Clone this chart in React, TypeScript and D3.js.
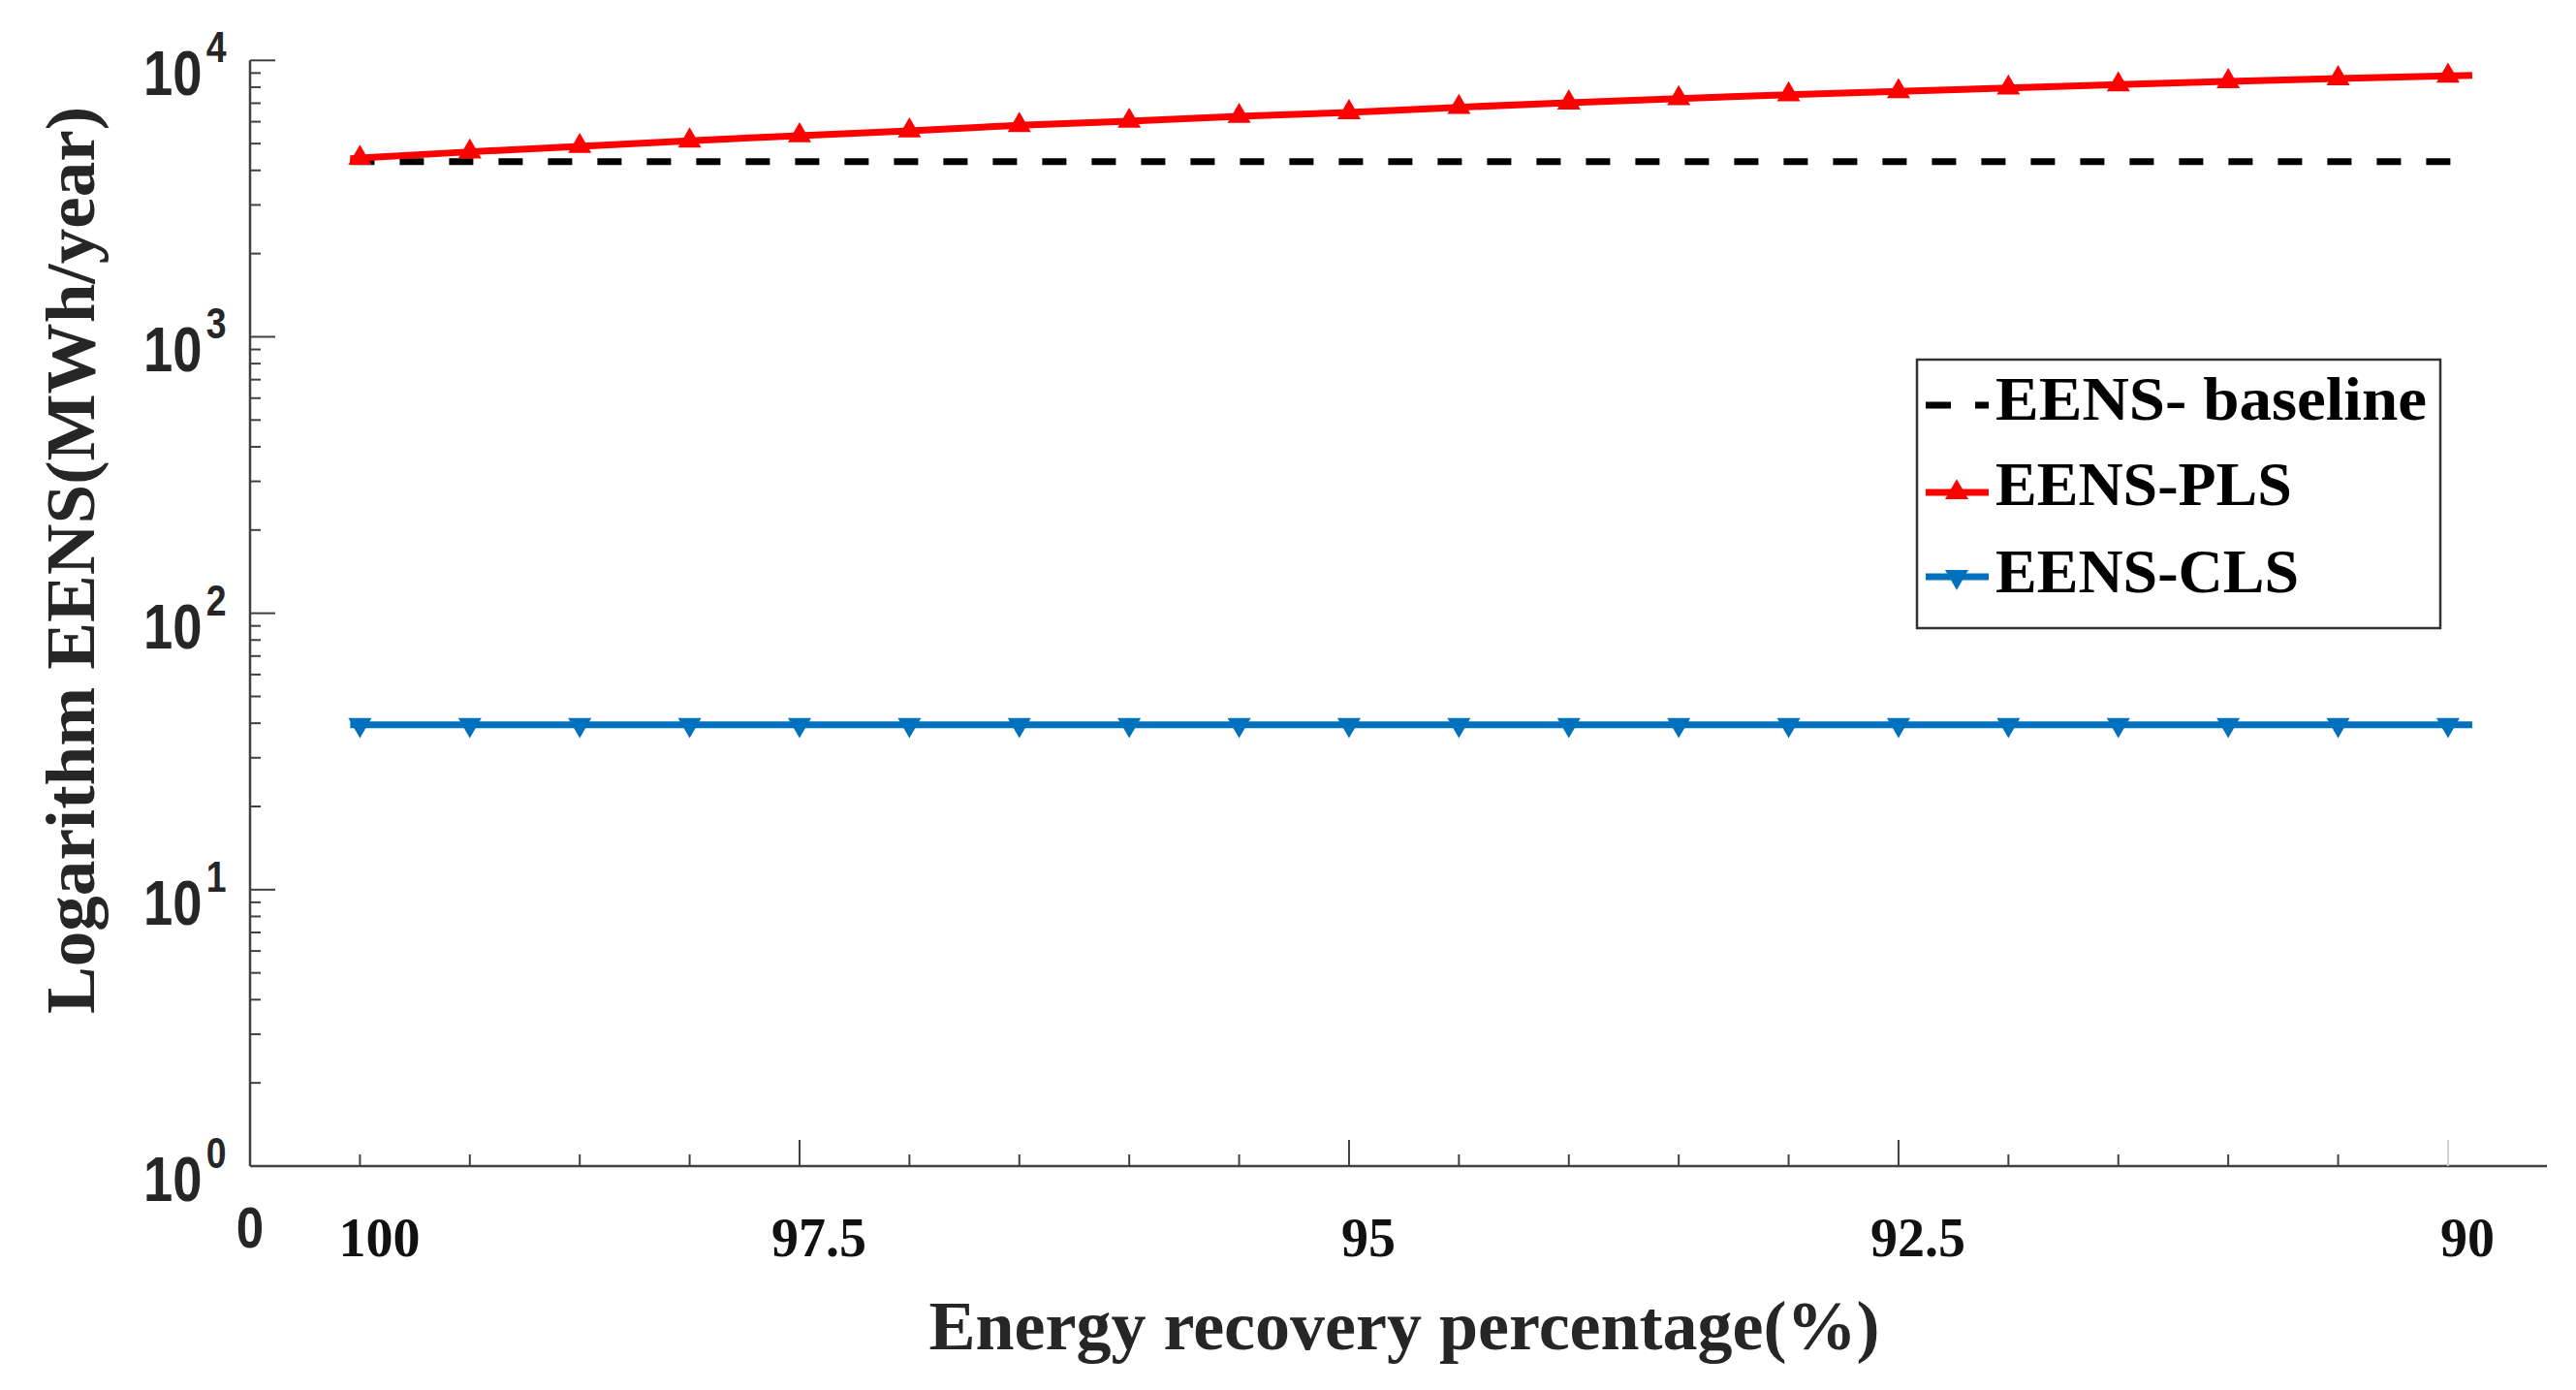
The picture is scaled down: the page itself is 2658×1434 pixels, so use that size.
import React from 'react';
import * as d3 from 'd3';

// ---- data ----
const pointIndex = [1, 2, 3, 4, 5, 6, 7, 8, 9, 10, 11, 12, 13, 14, 15, 16, 17, 18, 19, 20];
const baselineValues = [4300, 4300, 4300, 4300, 4300, 4300, 4300, 4300, 4300, 4300, 4300, 4300, 4300, 4300, 4300, 4300, 4300, 4300, 4300, 4300];
const plsValues = [4432, 4669, 4889, 5120, 5343, 5564, 5825, 6031, 6279, 6484, 6768, 7030, 7277, 7516, 7724, 7952, 8173, 8395, 8600, 8788];
const clsValues = [39.5, 39.5, 39.5, 39.5, 39.5, 39.5, 39.5, 39.5, 39.5, 39.5, 39.5, 39.5, 39.5, 39.5, 39.5, 39.5, 39.5, 39.5, 39.5, 39.5];
const xLabelPositions = [1, 5, 10, 15, 20];
const xLabelTexts = ['100', '97.5', '95', '92.5', '90'];
const xMinorTicks = [1, 2, 3, 4, 6, 7, 8, 9, 11, 12, 13, 14, 16, 17, 18, 19];
const xMajorTicks = [0, 5, 10, 15, 20];
const yExponents = [0, 1, 2, 3, 4];
const legendNames = ['EENS- baseline', 'EENS-PLS', 'EENS-CLS'];

const W = 2658;
const H = 1434;
const AX = '#404040';
const SERIF = '"Liberation Serif", "Times New Roman", serif';
const SANS = '"Liberation Sans", Arial, sans-serif';
const RED = '#ff0000';
const BLUE = '#0072bd';
const OVER_LEFT = 10; // px the drawn line runs past first point
const OVER_RIGHT = 25; // px the drawn line runs past last point

export default function App() {
  const x = d3.scaleLinear().domain([0, 20.9]).range([258, 2628]);
  const y = d3.scaleLog().domain([1, 1e4]).range([1203, 62.3]);
  const [x0, x1] = x.range();
  const [yb, yt] = y.range();

  const pathFor = (vals: number[]) => {
    const pts = pointIndex.map((p, i) => [x(p), y(vals[i])] as [number, number]);
    const n = pts.length;
    const [ax, ay] = pts[0];
    const [bx, by] = pts[1];
    const sl = (by - ay) / (bx - ax);
    const [cx, cy] = pts[n - 2];
    const [dx, dy] = pts[n - 1];
    const sr = (dy - cy) / (dx - cx);
    const ext: [number, number][] = [
      [ax - OVER_LEFT, ay - sl * OVER_LEFT],
      ...pts,
      [dx + OVER_RIGHT, dy + sr * OVER_RIGHT],
    ];
    return d3.line()(ext) || '';
  };

  const triUp = d3.symbol().type(d3.symbolTriangle).size(250)() as string;

  // minor log ticks
  const yMinor: number[] = [];
  for (let e = 0; e < 4; e++) {
    for (let m = 2; m <= 9; m++) yMinor.push(m * Math.pow(10, e));
  }

  const legendX = 1978;
  const legendY = 371;
  const rowBase = [433, 521, 611];

  return (
    <svg
      width={W}
      height={H}
      style={{ position: 'absolute', left: 0, top: 0, display: 'block', background: '#fff' }}
    >
      <rect x={0} y={0} width={W} height={H} fill="#fff" />

      {/* axes */}
      <line x1={x0} x2={x0} y1={yt} y2={yb} stroke={AX} strokeWidth={2.5} />
      <line x1={x0} x2={x1} y1={yb} y2={yb} stroke={AX} strokeWidth={2.5} />

      {/* y ticks */}
      {yExponents.map((e) => {
        const v = Math.pow(10, e);
        return <line key={'ym' + e} x1={x0} x2={x0 + 26} y1={y(v)} y2={y(v)} stroke={AX} strokeWidth={2} />;
      })}
      {yMinor.map((v) => (
        <line key={'yn' + v} x1={x0} x2={x0 + 11} y1={y(v)} y2={y(v)} stroke={AX} strokeWidth={2} />
      ))}

      {/* x ticks */}
      {xMajorTicks.map((t) => (
        <line
          key={'xm' + t}
          x1={x(t)}
          x2={x(t)}
          y1={yb}
          y2={yb - 27}
          stroke={t === 20 ? '#cfcfcf' : AX}
          strokeWidth={2}
        />
      ))}
      {xMinorTicks.map((t) => (
        <line key={'xn' + t} x1={x(t)} x2={x(t)} y1={yb} y2={yb - 12} stroke={AX} strokeWidth={2} />
      ))}

      {/* y tick labels: 10^e as one text */}
      {yExponents.map((e) => {
        const yy = y(Math.pow(10, e));
        return (
          <text
            key={'yl' + e}
            transform={`translate(148, ${yy + 36}) scale(0.85, 1)`}
            fill="#262626"
            fontFamily={SANS}
            fontWeight="bold"
          >
            <tspan fontSize={64}>10</tspan>
            <tspan fontSize={44} dx={5} dy={-34}>
              {e}
            </tspan>
          </text>
        );
      })}

      {/* origin "0" label */}
      <text
        transform={`translate(${x(0)}, 1287) scale(0.85, 1)`}
        fontFamily={SANS}
        fontWeight="bold"
        fontSize={60}
        fill="#262626"
        textAnchor="middle"
      >
        0
      </text>

      {/* x tick labels */}
      {xLabelPositions.map((p, i) => (
        <text
          key={'xl' + p}
          x={x(p) + 20}
          y={1296}
          fontFamily={SERIF}
          fontWeight="bold"
          fontSize={56}
          fill="#111"
          textAnchor="middle"
        >
          {xLabelTexts[i]}
        </text>
      ))}

      {/* axis titles */}
      <text x={1449} y={1392} fontFamily={SERIF} fontWeight="bold" fontSize={72} fill="#262626" textAnchor="middle">
        Energy recovery percentage(%)
      </text>
      <text
        transform={`translate(97, 578) rotate(-90)`}
        fontFamily={SERIF}
        fontWeight="bold"
        fontSize={72}
        fill="#262626"
        textAnchor="middle"
        textLength={936}
        lengthAdjust="spacingAndGlyphs"
      >
        Logarithm EENS(MWh/year)
      </text>

      {/* series */}
      <path d={pathFor(baselineValues)} fill="none" stroke="#000" strokeWidth={7} strokeDasharray="25 26" />
      <path d={pathFor(plsValues)} fill="none" stroke={RED} strokeWidth={7} />
      {pointIndex.map((p, i) => (
        <path key={'pm' + p} d={triUp} transform={`translate(${x(p)},${y(plsValues[i])})`} fill={RED} />
      ))}
      <path d={pathFor(clsValues)} fill="none" stroke={BLUE} strokeWidth={7} />
      {pointIndex.map((p, i) => (
        <path key={'cm' + p} d={triUp} transform={`translate(${x(p)},${y(clsValues[i])}) rotate(180)`} fill={BLUE} />
      ))}

      {/* legend */}
      <rect x={legendX} y={legendY} width={540} height={277} fill="#fff" stroke="#333" strokeWidth={2.5} />
      <line x1={1987} x2={2052} y1={rowBase[0] - 15} y2={rowBase[0] - 15} stroke="#000" strokeWidth={7} strokeDasharray="26 25" />
      <line x1={1987} x2={2052} y1={rowBase[1] - 13} y2={rowBase[1] - 13} stroke={RED} strokeWidth={7} />
      <path d={triUp} transform={`translate(2019,${rowBase[1] - 13})`} fill={RED} />
      <line x1={1987} x2={2052} y1={rowBase[2] - 16} y2={rowBase[2] - 16} stroke={BLUE} strokeWidth={7} />
      <path d={triUp} transform={`translate(2019,${rowBase[2] - 16}) rotate(180)`} fill={BLUE} />
      {legendNames.map((n, i) => (
        <text
          key={n}
          x={2059}
          y={rowBase[i]}
          fontFamily={SERIF}
          fontWeight="bold"
          fontSize={64}
          fill="#000"
          textLength={i === 0 ? 445 : undefined}
          lengthAdjust="spacingAndGlyphs"
        >
          {n}
        </text>
      ))}
    </svg>
  );
}
